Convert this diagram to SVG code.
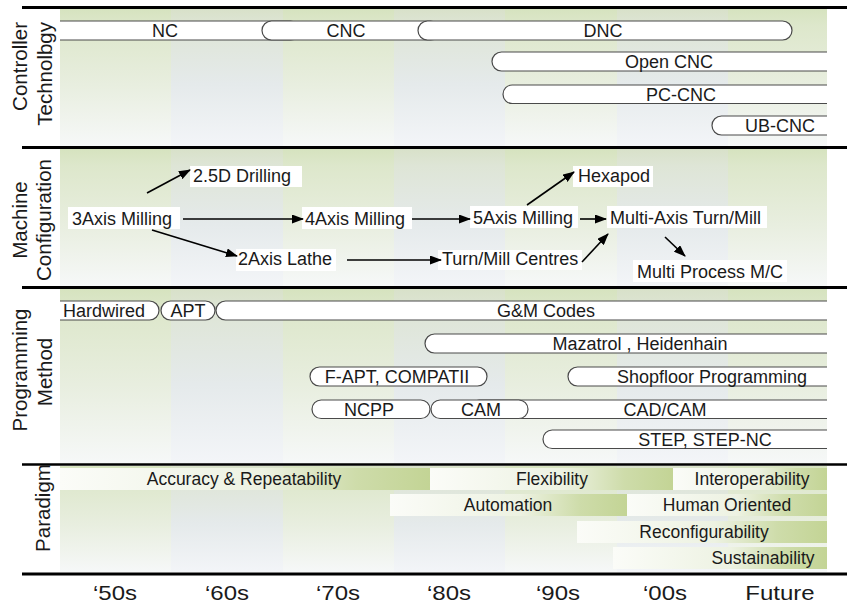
<svg xmlns="http://www.w3.org/2000/svg" width="847" height="607" viewBox="0 0 847 607">
<style>
text{font-family:"Liberation Sans",Arial,sans-serif;fill:#1a1a1a}
.sec{font-size:20.5px}
.pt{font-size:18px;text-anchor:middle}
.mt{font-size:18px}
.pd{font-size:17.5px;text-anchor:middle}
.dec{font-size:20px;text-anchor:middle}
.pill{fill:#fff;stroke:#4a4a4a;stroke-width:1.2}
.lbl{fill:#fff}
.rule{stroke:#000;stroke-width:3}
.arr{stroke:#000;stroke-width:1.6;fill:none;marker-end:url(#ah)}
.ga{fill:url(#gA)}
.gb{fill:url(#gB)}
.bar{fill:url(#gP)}
</style>
<defs>
<linearGradient id="gA" x1="0" y1="0" x2="0" y2="1">
<stop offset="0" stop-color="#d6e3bf"/>
<stop offset="0.12" stop-color="#dde7cb"/>
<stop offset="0.55" stop-color="#e8eedf"/>
<stop offset="1" stop-color="#f6f8f8"/>
</linearGradient>
<linearGradient id="gB" x1="0" y1="0" x2="0" y2="1">
<stop offset="0" stop-color="#d8e1c9"/>
<stop offset="0.12" stop-color="#dee5d6"/>
<stop offset="0.55" stop-color="#e5eaeb"/>
<stop offset="1" stop-color="#f3f5f8"/>
</linearGradient>
<linearGradient id="gP" x1="0" y1="0" x2="1" y2="0">
<stop offset="0" stop-color="#fbfcf8"/>
<stop offset="0.55" stop-color="#edf2e2"/>
<stop offset="0.8" stop-color="#cedcaa"/>
<stop offset="1" stop-color="#c3d495"/>
</linearGradient>
<clipPath id="clip"><rect x="60" y="0" width="767" height="607"/></clipPath>
<marker id="ah" markerWidth="12" markerHeight="9" refX="11" refY="4.5" orient="auto" markerUnits="userSpaceOnUse">
<path d="M0,0 L12,4.5 L0,9 z" fill="#000"/>
</marker>
</defs>

<g id="background">
<rect x="0" y="0" width="847" height="607" fill="#fff"/>
<g id="bg-s1">
<rect class="ga" x="60" y="9" width="111" height="137"/>
<rect class="gb" x="171" y="9" width="112" height="137"/>
<rect class="ga" x="283" y="9" width="111" height="137"/>
<rect class="gb" x="394" y="9" width="111" height="137"/>
<rect class="ga" x="505" y="9" width="112" height="137"/>
<rect class="gb" x="617" y="9" width="111" height="137"/>
<rect class="ga" x="728" y="9" width="99" height="137"/>
</g>
<g id="bg-s2">
<rect class="ga" x="60" y="149" width="111" height="137"/>
<rect class="gb" x="171" y="149" width="112" height="137"/>
<rect class="ga" x="283" y="149" width="111" height="137"/>
<rect class="gb" x="394" y="149" width="111" height="137"/>
<rect class="ga" x="505" y="149" width="112" height="137"/>
<rect class="gb" x="617" y="149" width="111" height="137"/>
<rect class="ga" x="728" y="149" width="99" height="137"/>
</g>
<g id="bg-s3">
<rect class="ga" x="60" y="289" width="111" height="174"/>
<rect class="gb" x="171" y="289" width="112" height="174"/>
<rect class="ga" x="283" y="289" width="111" height="174"/>
<rect class="gb" x="394" y="289" width="111" height="174"/>
<rect class="ga" x="505" y="289" width="112" height="174"/>
<rect class="gb" x="617" y="289" width="111" height="174"/>
<rect class="ga" x="728" y="289" width="99" height="174"/>
</g>
<g id="bg-s4">
<rect class="ga" x="60" y="466" width="111" height="106"/>
<rect class="gb" x="171" y="466" width="112" height="106"/>
<rect class="ga" x="283" y="466" width="111" height="106"/>
<rect class="gb" x="394" y="466" width="111" height="106"/>
<rect class="ga" x="505" y="466" width="112" height="106"/>
<rect class="gb" x="617" y="466" width="111" height="106"/>
<rect class="ga" x="728" y="466" width="99" height="106"/>
</g>
</g>

<g id="rules">
<line class="rule" x1="22" y1="7.5" x2="847" y2="7.5"/>
<line class="rule" x1="22" y1="147.5" x2="847" y2="147.5"/>
<line class="rule" x1="22" y1="287.5" x2="847" y2="287.5"/>
<line class="rule" x1="22" y1="464.5" x2="847" y2="464.5" style="stroke-width:2.5"/>
<line class="rule" x1="22" y1="574" x2="847" y2="574"/>
</g>

<g id="section-labels">
<text class="sec" transform="translate(27,22) rotate(-90)" text-anchor="end">Controller</text>
<text class="sec" transform="translate(52,22) rotate(-90)" text-anchor="end">Technolbgy</text>
<text class="sec" transform="translate(27,220) rotate(-90)" text-anchor="middle">Machine</text>
<text class="sec" transform="translate(51,220) rotate(-90)" text-anchor="middle">Configuration</text>
<text class="sec" transform="translate(27,370) rotate(-90)" text-anchor="middle">Programming</text>
<text class="sec" transform="translate(52,372) rotate(-90)" text-anchor="middle">Method</text>
<text class="sec" transform="translate(50,508) rotate(-90)" text-anchor="middle">Paradigm</text>
</g>

<g id="controller" clip-path="url(#clip)">
<g id="nc"><rect class="pill" x="30" y="21" width="270" height="19" rx="9.5"/><text class="pt" x="165" y="36.5">NC</text></g>
<g id="cnc"><rect class="pill" x="262" y="21" width="178" height="19" rx="9.5"/><text class="pt" x="346" y="36.5">CNC</text></g>
<g id="dnc"><rect class="pill" x="418" y="21" width="374" height="19" rx="9.5"/><text class="pt" x="603" y="36.5">DNC</text></g>
<g id="open-cnc"><rect class="pill" x="492" y="52" width="370" height="19" rx="9.5"/><text class="pt" x="669" y="67.5">Open CNC</text></g>
<g id="pc-cnc"><rect class="pill" x="503" y="85" width="360" height="18.5" rx="9.2"/><text class="pt" x="681" y="100.5">PC-CNC</text></g>
<g id="ub-cnc"><rect class="pill" x="712" y="116" width="150" height="19" rx="9.5"/><text class="pt" x="780" y="131.5">UB-CNC</text></g>
</g>

<g id="machine">
<g id="n-3axis"><rect class="lbl" x="68" y="207" width="112" height="22"/><text class="mt" x="72" y="225">3Axis Milling</text></g>
<g id="n-25d"><rect class="lbl" x="190" y="166" width="112" height="21"/><text class="mt" x="193" y="182">2.5D Drilling</text></g>
<g id="n-4axis"><rect class="lbl" x="302" y="207" width="110" height="22"/><text class="mt" x="305" y="225">4Axis Milling</text></g>
<g id="n-2axis"><rect class="lbl" x="236" y="249" width="100" height="22"/><text class="mt" x="238" y="265">2Axis Lathe</text></g>
<g id="n-5axis"><rect class="lbl" x="470" y="206" width="108" height="22"/><text class="mt" x="473" y="224">5Axis Milling</text></g>
<g id="n-hexapod"><rect class="lbl" x="573" y="166" width="80" height="21"/><text class="mt" x="578" y="182">Hexapod</text></g>
<g id="n-multiaxis"><rect class="lbl" x="607" y="206" width="160" height="22"/><text class="mt" x="610" y="224">Multi-Axis Turn/Mill</text></g>
<g id="n-turnmill"><rect class="lbl" x="438" y="250" width="144" height="20"/><text class="mt" x="442" y="265">Turn/Mill Centres</text></g>
<g id="n-multiprocess"><rect class="lbl" x="633" y="260" width="154" height="22"/><text class="mt" x="637" y="278">Multi Process M/C</text></g>
</g>

<g id="connectors">
<line class="arr" x1="147" y1="193" x2="190" y2="170"/>
<line class="arr" x1="183" y1="219" x2="303" y2="219"/>
<line class="arr" x1="152" y1="230" x2="237" y2="256"/>
<line class="arr" x1="347" y1="260" x2="441" y2="260"/>
<line class="arr" x1="412" y1="219" x2="470" y2="219"/>
<line class="arr" x1="527" y1="205" x2="574" y2="172"/>
<line class="arr" x1="580" y1="219" x2="606" y2="219"/>
<line class="arr" x1="582" y1="262" x2="608" y2="234"/>
<line class="arr" x1="665" y1="237" x2="685" y2="256"/>
</g>

<g id="programming" clip-path="url(#clip)">
<g id="hardwired"><rect class="pill" x="20" y="301" width="139" height="19" rx="9.5"/><text class="mt" x="63" y="316.5">Hardwired</text></g>
<g id="apt"><rect class="pill" x="161" y="301" width="54" height="19" rx="9.5"/><text class="pt" x="188" y="316.5">APT</text></g>
<g id="gm"><rect class="pill" x="216" y="301" width="646" height="19" rx="9.5"/><text class="pt" x="546" y="316.5">G&amp;M Codes</text></g>
<g id="mazatrol"><rect class="pill" x="425" y="334" width="437" height="19" rx="9.5"/><text class="pt" x="640" y="349.5">Mazatrol , Heidenhain</text></g>
<g id="fapt"><rect class="pill" x="310" y="367" width="177" height="19" rx="9.5"/><text class="pt" x="397" y="382.5">F-APT, COMPATII</text></g>
<g id="shopfloor"><rect class="pill" x="568" y="367" width="294" height="19" rx="9.5"/><text class="pt" x="712" y="382.5">Shopfloor Programming</text></g>
<g id="ncpp"><rect class="pill" x="312" y="400" width="118" height="18.5" rx="9.2"/><text class="pt" x="369" y="415.5">NCPP</text></g>
<g id="cadcam"><rect class="pill" x="470" y="400" width="392" height="18.5" rx="9.2"/><text class="pt" x="665" y="415.5">CAD/CAM</text></g>
<g id="cam"><rect class="pill" x="431" y="400" width="97" height="18.5" rx="9.2"/><text class="pt" x="481" y="415.5">CAM</text></g>
<g id="step"><rect class="pill" x="543" y="430" width="319" height="18.5" rx="9.2"/><text class="pt" x="705" y="445.5">STEP, STEP-NC</text></g>
</g>

<g id="paradigm">
<g id="accuracy"><rect class="bar" x="60" y="468" width="370" height="22"/><text class="pd" x="244" y="485">Accuracy &amp; Repeatability</text></g>
<g id="flexibility"><rect class="bar" x="430" y="468" width="243" height="22"/><text class="pd" x="552" y="485">Flexibility</text></g>
<g id="interop"><rect class="bar" x="673" y="468" width="154" height="22"/><text class="pd" x="752" y="485">Interoperability</text></g>
<g id="automation"><rect class="bar" x="390" y="494" width="237" height="22"/><text class="pd" x="508" y="511">Automation</text></g>
<g id="human"><rect class="bar" x="627" y="494" width="200" height="22"/><text class="pd" x="727" y="511">Human Oriented</text></g>
<g id="reconfig"><rect class="bar" x="577" y="521" width="250" height="22"/><text class="pd" x="704" y="538">Reconfigurability</text></g>
<g id="sustain"><rect class="bar" x="613" y="547" width="214" height="22"/><text class="pd" x="763" y="564">Sustainability</text></g>
</g>

<g id="decades">
<text class="dec" transform="translate(115,600) scale(1.2,1)">‘50s</text>
<text class="dec" transform="translate(227,600) scale(1.2,1)">‘60s</text>
<text class="dec" transform="translate(338,600) scale(1.2,1)">‘70s</text>
<text class="dec" transform="translate(449,600) scale(1.2,1)">‘80s</text>
<text class="dec" transform="translate(558,600) scale(1.2,1)">‘90s</text>
<text class="dec" transform="translate(665,600) scale(1.2,1)">‘00s</text>
<text class="dec" transform="translate(780,600) scale(1.2,1)">Future</text>
</g>
</svg>
